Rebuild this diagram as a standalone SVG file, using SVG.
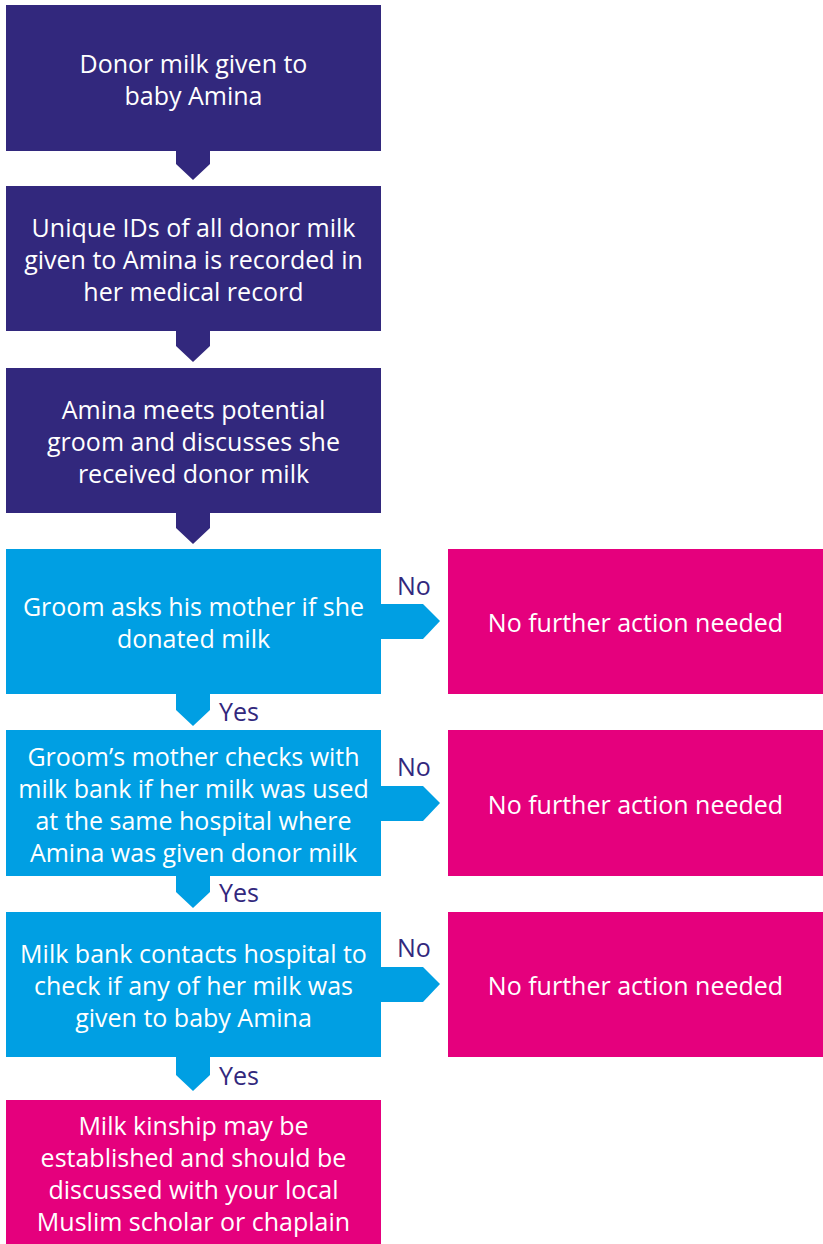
<svg xmlns="http://www.w3.org/2000/svg" width="823" height="1244" viewBox="0 0 823 1244">
<style>
.p{fill:#32287d}.b{fill:#009fe3}.m{fill:#e5007d}
.t{font-family:"Open Sans","Liberation Sans",sans-serif;font-size:25px;fill:#fff;text-anchor:middle;dominant-baseline:central}
.l{font-family:"Open Sans","Liberation Sans",sans-serif;font-size:25px;fill:#32287d;dominant-baseline:central}
</style>
<rect width="823" height="1244" fill="#fff"/>
<g id="connectors">
<polygon class="p" points="176,150 210,150 210,164 193,180 176,164"/>
<polygon class="p" points="176,330 210,330 210,346 193,362 176,346"/>
<polygon class="p" points="176,512 210,512 210,528 193,544 176,528"/>
<polygon class="b" points="176,693 210,693 210,710 193,726 176,710"/>
<polygon class="b" points="176,875 210,875 210,892 193,908 176,892"/>
<polygon class="b" points="176,1056 210,1056 210,1075 193,1091 176,1075"/>
<polygon class="b" points="380,604 423,604 440,621 423,639 380,639"/>
<polygon class="b" points="380,786 423,786 440,803 423,821 380,821"/>
<polygon class="b" points="380,967 423,967 440,984 423,1002 380,1002"/>
<text class="l" x="397" y="585">No</text>
<text class="l" x="397" y="766">No</text>
<text class="l" x="397" y="947">No</text>
<text class="l" x="219" y="711">Yes</text>
<text class="l" x="219" y="892">Yes</text>
<text class="l" x="219" y="1075">Yes</text>
</g>
<g id="n1"><rect class="p" x="6" y="5" width="375" height="146"/>
<text class="t" x="193.5" y="63">Donor milk given to</text><text class="t" x="193.5" y="95">baby Amina</text></g>
<g id="n2"><rect class="p" x="6" y="186" width="375" height="145"/>
<text class="t" x="193.5" y="227">Unique IDs of all donor milk</text><text class="t" x="193.5" y="259">given to Amina is recorded in</text><text class="t" x="193.5" y="291">her medical record</text></g>
<g id="n3"><rect class="p" x="6" y="368" width="375" height="145"/>
<text class="t" x="193.5" y="409">Amina meets potential</text><text class="t" x="193.5" y="441">groom and discusses she</text><text class="t" x="193.5" y="473">received donor milk</text></g>
<g id="n4"><rect class="b" x="6" y="549" width="375" height="145"/>
<text class="t" x="193.5" y="606">Groom asks his mother if she</text><text class="t" x="193.5" y="638">donated milk</text></g>
<g id="n5"><rect class="b" x="6" y="730" width="375" height="146"/>
<text class="t" x="193.5" y="756">Groom’s mother checks with</text><text class="t" x="193.5" y="788">milk bank if her milk was used</text><text class="t" x="193.5" y="820">at the same hospital where</text><text class="t" x="193.5" y="852">Amina was given donor milk</text></g>
<g id="n6"><rect class="b" x="6" y="912" width="375" height="145"/>
<text class="t" x="193.5" y="953">Milk bank contacts hospital to</text><text class="t" x="193.5" y="985">check if any of her milk was</text><text class="t" x="193.5" y="1017">given to baby Amina</text></g>
<g id="n7"><rect class="m" x="6" y="1100" width="375" height="144"/>
<text class="t" x="193.5" y="1125">Milk kinship may be</text><text class="t" x="193.5" y="1157">established and should be</text><text class="t" x="193.5" y="1189">discussed with your local</text><text class="t" x="193.5" y="1221">Muslim scholar or chaplain</text></g>
<g id="r1"><rect class="m" x="448" y="549" width="375" height="145"/><text class="t" x="635.5" y="622">No further action needed</text></g>
<g id="r2"><rect class="m" x="448" y="730" width="375" height="146"/><text class="t" x="635.5" y="804">No further action needed</text></g>
<g id="r3"><rect class="m" x="448" y="912" width="375" height="145"/><text class="t" x="635.5" y="985">No further action needed</text></g>
</svg>
